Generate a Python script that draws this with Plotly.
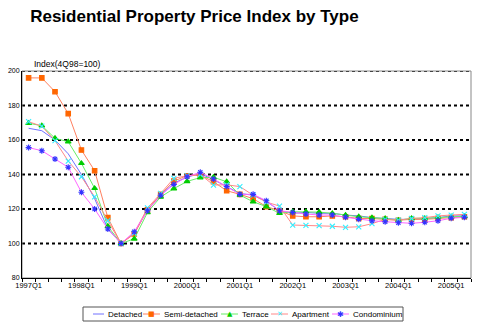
import plotly.graph_objects as go

quarters = [f"{y}Q{q}" for y in range(1997, 2006) for q in range(1, 5)][:34]

detached = [166.8, 165.4, 160, 152, 140, 126, 108.5, 100, 106, 119.5, 128, 135, 138.5, 140.5, 137, 133,
            129, 128, 124.5, 119, 117.5, 118, 117.5, 117.5, 116.5, 116, 115, 114.5, 114, 114, 114.5, 115, 116, 116]
semi_detached = [196, 196, 188, 175.3, 154.2, 142.2, 115, 100, 105.5, 119.5, 128.5, 136.2, 139.3, 139.7, 135.8, 130.6,
                 128.5, 126, 121.4, 119, 116, 115.5, 115.5, 116, 115.5, 114.5, 114.5, 114, 113.5, 114, 114, 114.5, 115, 115.5]
terrace = [169.7, 168.3, 161, 159, 146.5, 132, 110, 100, 102.7, 118, 127, 131.8, 136, 138.2, 138.4, 135.8,
           128.1, 124.2, 121.4, 117.5, 118.4, 118.4, 118.2, 117.5, 116.5, 115.5, 115, 114.5, 113.5, 114.6, 114.6, 115.2, 115.5, 115.7]
apartment = [170.6, 168, 159.6, 147.8, 138.7, 127, 113.2, 100, 106, 120.6, 129, 137.8, 139.3, 140, 133.9, 134,
             133, 128, 124, 121.7, 110.7, 110.5, 110.3, 110, 109.4, 109.7, 111.5, 114, 113.5, 114.5, 115, 116, 116.5, 116.9]
condominium = [155.6, 153.8, 149, 144.2, 129.7, 120, 108.4, 100, 106.8, 119, 128, 134.3, 138.7, 141.3, 137.4, 133,
               128.5, 128.5, 124.8, 119, 118, 117.1, 116.5, 116.5, 115.2, 114, 113.2, 112.6, 112, 111.7, 112.3, 113.2, 114.6, 115.2]

series_names = ["Detached", "Semi-detached", "Terrace", "Apartment", "Condominium"]
series_values = [detached, semi_detached, terrace, apartment, condominium]

# styles
line_colors = ["#7070ff", "#ff8060", "#66ee66", "#ff8888", "#ff66ff"]
marker_symbols = [None, "square", "triangle-up", "x-thin", "asterisk"]
marker_sizes = [0, 4.5, 5, 5, 5]
marker_colors = [None, "#ff6600", "#00cc00", "#33eeff", "#3333ff"]
legend_glyphs = ["", "■", "▲", "✕", "✱"]
legend_glyph_sizes = [0, 7, 7, 7, 8]

tick_text = [q if q.endswith("Q1") else "" for q in quarters]
y_ticks = [80, 100, 120, 140, 160, 180, 200]

W, H = 479, 326
ML, MR, MT, MB = 22, 8, 71, 48
PW, PH = W - ML - MR, H - MT - MB


def px(xp):
    return (xp - ML) / PW


def py(yp):
    return (H - MB - yp) / PH


fig = go.Figure()
for name, vals, lc, sym, ms, mc in zip(series_names, series_values, line_colors, marker_symbols,
                                       marker_sizes, marker_colors):
    if sym is None:
        fig.add_trace(go.Scatter(x=quarters, y=vals, name=name, mode="lines",
                                 line=dict(color=lc, width=1)))
    else:
        fig.add_trace(go.Scatter(x=quarters, y=vals, name=name, mode="lines+markers",
                                 line=dict(color=lc, width=1),
                                 marker=dict(symbol=sym, size=ms, color=mc,
                                             line=dict(color=mc, width=1.1))))

shapes = []
for v in y_ticks[1:]:
    shapes.append(dict(type="line", xref="paper", x0=0, x1=1, yref="y", y0=v, y1=v,
                       line=dict(color="black", width=2, dash="dot"), layer="below"))
shapes.append(dict(type="rect", xref="paper", yref="paper", x0=0, x1=1, y0=0, y1=1,
                   line=dict(color="#888888", width=1), layer="below"))

# custom compact legend (layout positions in pixels)
leg_box = (83, 403, 307, 321)
leg_line_x = [(93, 104), (143, 160), (221, 238), (271, 288), (332, 349)]
leg_cy = (leg_box[2] + leg_box[3]) / 2
shapes.append(dict(type="rect", xref="paper", yref="paper",
                   x0=px(leg_box[0]), x1=px(leg_box[1]), y0=py(leg_box[3]), y1=py(leg_box[2]),
                   line=dict(color="#555555", width=1), fillcolor="white"))

annotations = [dict(text="Index(4Q98=100)", xref="paper", yref="paper", x=px(32), y=1.0,
                    xanchor="left", yanchor="bottom", showarrow=False,
                    font=dict(size=8.5, color="black"))]

for name, lc, mc, g, gs, (x0, x1) in zip(series_names, line_colors, marker_colors,
                                         legend_glyphs, legend_glyph_sizes, leg_line_x):
    shapes.append(dict(type="line", xref="paper", yref="paper", x0=px(x0), x1=px(x1),
                       y0=py(leg_cy), y1=py(leg_cy), line=dict(color=lc, width=1)))
    if g:
        annotations.append(dict(text=g, xref="paper", yref="paper", x=px((x0 + x1) / 2), y=py(leg_cy),
                                xanchor="center", yanchor="middle", showarrow=False,
                                font=dict(size=gs, color=mc, family="DejaVu Sans")))
    annotations.append(dict(text=name, xref="paper", yref="paper", x=px(x1 + 1.5), y=py(leg_cy),
                            xanchor="left", yanchor="middle", showarrow=False,
                            font=dict(size=8, color="black")))

fig.update_layout(
    width=W, height=H,
    margin=dict(l=ML, r=MR, t=MT, b=MB),
    paper_bgcolor="white", plot_bgcolor="white",
    font=dict(family="Liberation Sans, Arial, sans-serif", size=7, color="black"),
    title=dict(text="<b>Residential Property Price Index by Type</b>", x=0.063, xanchor="left",
               y=0.95, yanchor="middle", font=dict(size=17, color="black")),
    showlegend=False,
    xaxis=dict(type="category", tickmode="array", tickvals=quarters, ticktext=tick_text,
               tickson="boundaries", ticks="outside", ticklen=3, tickcolor="black",
               showline=True, linecolor="black", linewidth=1, mirror=False,
               showgrid=False, range=[-0.5, 33.5], tickangle=0,
               tickfont=dict(size=7.5)),
    yaxis=dict(range=[80, 200], tickvals=y_ticks, showgrid=False, zeroline=False,
               showline=True, linecolor="black", linewidth=1, ticks="", tickfont=dict(size=7)),
    shapes=shapes,
    annotations=annotations,
)

fig.write_html("out.html")
